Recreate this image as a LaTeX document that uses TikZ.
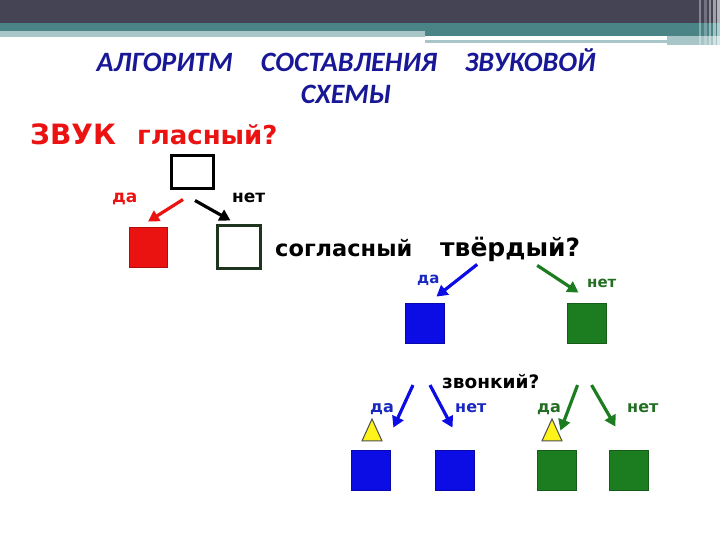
\documentclass[tikz,border=0pt]{standalone}
\usepackage{fontspec}
\setmainfont{DejaVu Sans}
\newfontfamily\titlefont{Carlito}
\usetikzlibrary{calc, shapes.geometric, arrows.meta, positioning}
\definecolor{soundred}{RGB}{235,18,18}
\definecolor{soundblue}{RGB}{12,12,228}
\definecolor{soundgreen}{RGB}{28,124,32}
\definecolor{consgreen}{RGB}{30,52,30}
\definecolor{titleblue}{RGB}{24,24,150}
\definecolor{labblue}{RGB}{25,40,190}
\definecolor{labgreen}{RGB}{35,110,35}
\definecolor{bardark}{RGB}{68,68,84}
\definecolor{barteal}{RGB}{74,132,135}
\definecolor{barlight}{RGB}{168,198,199}
\newcommand{\SoundBoxWidth}{39pt}
\newcommand{\SoundBoxHeight}{40pt}
\newcommand{\SoundRow}{470}

\begin{document}
\begin{tikzpicture}[x=1pt, y=-1pt,
	sound box/.style={
		draw=#1!75!black,
		fill=#1,
		line width=0.8pt,
		minimum width=\SoundBoxWidth,
		minimum height=\SoundBoxHeight,
		inner sep=0
	},
	empty box/.style={
		draw=#1,
		line width=3pt,
		inner sep=0
	},
	title/.style={
		font=\titlefont\bfseries\itshape\fontsize{28}{28}\selectfont,
		text=titleblue,
		anchor=base,
		inner sep=0
	},
	question/.style={
		font=\bfseries\fontsize{#1}{#1}\selectfont,
		anchor=base west,
		inner sep=0
	},
	answer/.style={
		font=\bfseries\fontsize{#1}{#1}\selectfont,
		anchor=base west,
		inner sep=0
	},
	sound arrow/.style={
		draw=#1,
		line width=3.2pt,
		-{Triangle[length=11pt,width=12pt]}
	},
	voiced mark/.style={
		isosceles triangle,
		isosceles triangle stretches,
		shape border rotate=90,
		minimum width=20pt,
		minimum height=22pt,
		inner sep=0,
		draw=black!70,
		fill=yellow!90,
		line width=1pt
	}
]
	\useasboundingbox (0,0) rectangle (720,540);
	% top band
	\fill[bardark] (0,0) rectangle (720,23);
	\fill[barteal] (0,23) rectangle (720,31);
	\fill[barteal] (425,31) rectangle (720,36);
	\fill[barlight] (0,31) rectangle (425,37);
	\fill[barlight] (425,40) rectangle (667,43);
	\fill[barlight] (667,36) rectangle (720,45);
	\foreach \x/\w/\o in {699/2/0.35, 704/3/0.25, 709/2/0.4, 713/3/0.5, 717/3/0.6}
		\fill[white, opacity=\o] (\x,0) rectangle ++(\w,45);

	\node[title] (title) at (346,72) {АЛГОРИТМ\quad СОСТАВЛЕНИЯ\quad ЗВУКОВОЙ};
	\node[title] (title2) at (346,104) {СХЕМЫ};

	% vowel or consonant
	\node[question=28, text=soundred] (sound) at (30,145) {ЗВУК};
	\node[question=26, text=soundred] (vowelq) at (137,145) {гласный?};
	\node[empty box=black, minimum width=42pt, minimum height=33pt] (q0) at (192,172.5) {};
	\node[answer=17, text=soundred] (yes0) at (112,203) {да};
	\node[answer=17, text=black] (no0) at (232,203) {нет};
	\node[sound box=soundred, minimum width=38pt] (vowel) at (148,247) {};
	\node[empty box=consgreen, minimum width=43pt, minimum height=42pt] (cons) at (238.5,247) {};
	\draw[sound arrow=soundred] ($(q0.south)+(-9,9)$) -- ($(vowel.north)+(0,-5)$);
	\draw[sound arrow=black] ($(q0.south)+(3,10)$) -- ($(cons.north)+(-8,-4)$);

	% hard or soft
	\node[question=22.5] (consq) at (275,256) {согласный};
	\node[question=25] (hardq) at (440,256) {твёрдый?};
	\node[answer=15, text=labblue] (yes1) at (417,283) {да};
	\node[answer=15, text=labgreen] (no1) at (587,287) {нет};
	\node[sound box=soundblue] (hard) at (424.5,323) {};
	\node[sound box=soundgreen] (soft) at (586.5,323) {};
	\draw[sound arrow=soundblue] ($(hardq.south)+(-33,3)$) -- ($(hard.north east)+(-8,-6)$);
	\draw[sound arrow=soundgreen] ($(hardq.south)+(27,4)$) -- ($(soft.north)+(-8,-10)$);

	% voiced or voiceless
	\node[question=18.5] (voicedq) at (442,388) {звонкий?};
	\foreach \x/\c/\n in {370.5/soundblue/hv, 454.5/soundblue/hu, 556.5/soundgreen/sv, 628.5/soundgreen/su}
		\node[sound box=\c] (\n) at (\x,\SoundRow) {};
	\node[voiced mark] (hvmark) at (372,434.5) {};
	\node[voiced mark] (svmark) at (552,434.5) {};
	\node[answer=16, text=labblue] (yes2) at (370,412) {да};
	\node[answer=16, text=labblue] (no2) at (455,412) {нет};
	\node[answer=16, text=labgreen] (yes3) at (537,412) {да};
	\node[answer=16, text=labgreen] (no3) at (627,412) {нет};
	\draw[sound arrow=soundblue] ($(voicedq.west)+(-29,4)$) -- ($(hv.north east)+(3,-22)$);
	\draw[sound arrow=soundblue] ($(voicedq.west)+(-12,4)$) -- ($(hu.north)+(-2,-22)$);
	\draw[sound arrow=soundgreen] ($(voicedq.east)+(38,4)$) -- ($(sv.north east)+(-16,-19)$);
	\draw[sound arrow=soundgreen] ($(voicedq.east)+(52,4)$) -- ($(su.north)+(-13,-23)$);
\end{tikzpicture}
\end{document}
